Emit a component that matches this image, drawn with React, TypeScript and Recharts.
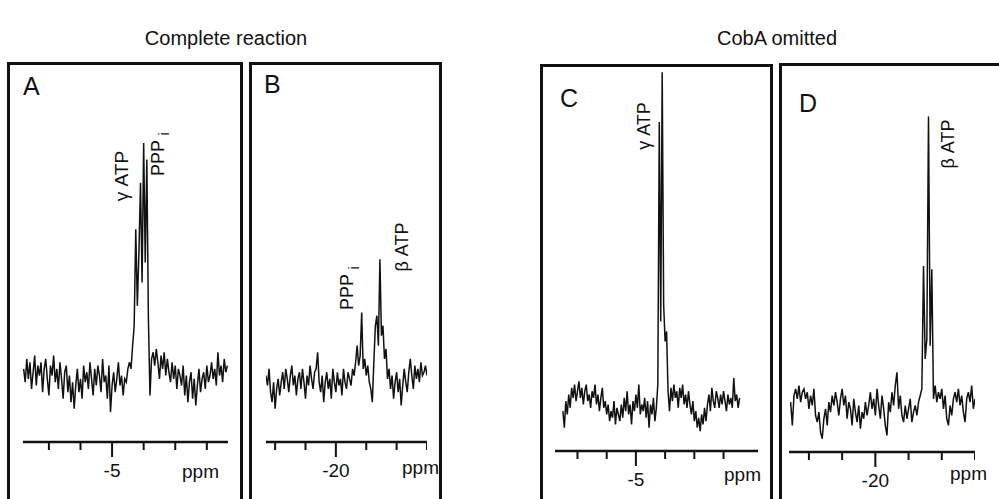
import React from "react";
import { LineChart, Line, XAxis, YAxis } from "recharts";

// 31P NMR spectra, sampled every 0.05 ppm from the start shift
const step = 0.05;

const aStart = -7.8;
const aIntensity = [
  1, -3, 4, -2, 3, -5, 0, 5, -4, 2,
  -1, 3, -6, 1, 4, -2, -7, 2, -1, 5,
  -3, 1, -5, 3, -2, -8, 0, 2, -6, -1,
  -9, -3, -11, -4, 1, -6, -2, -8, 2, -3,
  0, -5, 3, -2, -7, 1, -4, 2, -1, -6,
  4, -3, -1, -8, 2, -12, -4, 0, -6, -2,
  3, -4, -1, -7, -2, -3, 1, 3, 1, 8,
  14, 43, 20, 36, 57, 27, 69, 33, 64, 16,
  -7, 4, 6, 2, 7, 3, -2, 5, 1, 6,
  -1, 4, 0, -3, 3, -2, 2, -5, 1, -1,
  -4, 2, -7, -1, -9, -3, 0, -8, -2, -10,
  -4, 1, -6, -2, 0, -5, 2, -3, -1, 3,
  -2, 1, -4, 6, -1, 2, -3, 4, 0, 2,
];

const bStart = -22.3;
const bIntensity = [
  -1, -4, 1, -6, -9, -3, -11, -5, -2, -7,
  -3, 0, -5, 1, -2, -6, -1, 2, -4, -1,
  -7, -2, 0, -5, 1, -3, -8, -1, -4, 2,
  -2, -5, 0, 1, 6, -3, -6, -1, -9, -3,
  0, -5, -2, -8, 1, -3, -6, 0, -4, -2,
  -7, 1, -3, -5, 0, -2, -4, 1, -1, 3,
  8, 2, 5, 18, 1, 4, -1, 2, -3, -5,
  -9, 3, 14, 17, 8, 34, 11, 14, 4, 7,
  -2, 1, -5, -1, -8, -3, 0, -6, -2, -10,
  -4, 1, -3, -6, 0, 4, -1, -5, 2, -2,
  1, -3, 3, -1, 0, 2, -1,
];

const cStart = -7.5;
const cIntensity = [
  -2, -7, 1, -3, 3, -1, 5, 2, 6, 1,
  4, 7, 2, 5, 0, 4, 6, 1, 3, -1,
  4, 2, 6, 0, 3, -2, 2, 5, -1, 1,
  -3, 0, -5, -2, -4, 1, -6, -1, -3, -5,
  0, -4, 2, -2, 4, -3, 0, -6, 1, -2,
  3, -1, 6, -3, 0, -2, 2, -4, 1, -7,
  0, -3, 2, -5, -1, 6, 85, 25, 100, 30,
  19, 22, 4, -2, 5, 1, 6, 2, 4, -1,
  5, 2, 6, 0, 3, -1, 4, 0, -3, 1,
  -5, -2, -7, -4, -8, -3, -6, -1, -5, 0,
  3, -2, 5, 1, -1, 4, 2, -1, 3, 0,
  4, 1, -2, 3, 0, 2, -1, 8, 1, 3,
  -1, 2,
];

const dStart = -22.55;
const dIntensity = [
  1, -6, 3, 5, 2, 6, 1, 4, 5, 2,
  4, -1, 3, 0, 5, -3, -5, -2, -8, -10,
  -4, -1, -6, 1, -2, 3, 0, 4, 1, -3,
  2, 5, 0, 3, -4, 1, -1, -6, 2, -2,
  -5, 0, -7, -2, -4, 1, -3, 0, 4, -1,
  2, -3, 5, 0, -4, 3, -1, -6, -9, 1,
  -2, 4, 0, 6, 10, -1, 3, -3, -5, 0,
  -4, -1, 2, -5, -2, 0, -3, 1, 3, 5,
  42, 14, 20, 87, 18, 41, 2, 6, 1, 4,
  2, 5, -1, 3, -4, -6, 0, -3, 2, 4,
  1, 5, 0, 3, -2, -5, 2, 4, 1, 6,
  -1, 2,
];

const gammaTicks = [-7, -6, -5, -4, -3, -2];
const betaTicks = [-22, -21, -20, -19, -18, -17];

const toRows = (start: number, values: number[]) =>
  values.map((v, i) => ({ ppm: +(start + i * step).toFixed(2), v }));

const ink = "#111";
const font = "'Liberation Sans', Arial, Helvetica, sans-serif";

type PanelProps = {
  rows: { ppm: number; v: number }[];
  left: number;
  right: number;
  top: number;
  axisY: number;
  xDomain: [number, number];
  yDomain: [number, number];
  ticks: number[];
  labelled: number;
};

const AxisTick = (props: any) => {
  const { x, y, payload, labelled } = props;
  const isLab = payload.value === labelled;
  return (
    <g>
      <line x1={x} x2={x} y1={y} y2={y + (isLab ? 15 : 8)} stroke={ink} strokeWidth={2} />
      {isLab && (
        <text x={x} y={y + 35} textAnchor="middle" fontSize={19} fill={ink} fontFamily={font}>
          {payload.value}
        </text>
      )}
    </g>
  );
};

const Spectrum = ({ rows, left, right, top, axisY, xDomain, yDomain, ticks, labelled }: PanelProps) => {
  const width = right - left;
  const height = axisY - top + 40;
  return (
    <div style={{ position: "absolute", left, top, width, height }}>
      <LineChart width={width} height={height} data={rows} margin={{ top: 0, right: 0, bottom: 0, left: 0 }}>
        <XAxis
          type="number"
          dataKey="ppm"
          domain={xDomain}
          allowDataOverflow
          ticks={ticks}
          interval={0}
          height={40}
          tickSize={0}
          tickMargin={0}
          tickLine={false}
          axisLine={{ stroke: ink, strokeWidth: 2.5 }}
          tick={(p: any) => <AxisTick {...p} labelled={labelled} />}
        />
        <YAxis hide type="number" domain={yDomain} allowDataOverflow />
        <Line
          type="linear"
          dataKey="v"
          stroke={ink}
          strokeWidth={1.5}
          dot={false}
          isAnimationActive={false}
        />
      </LineChart>
    </div>
  );
};

const VLabel = ({ x, y, text, size = 18 }: { x: number; y: number; text: string; size?: number }) => (
  <text
    x={x}
    y={y}
    transform={`rotate(-90 ${x} ${y})`}
    textAnchor="middle"
    dominantBaseline="central"
    fontSize={size}
    fill={ink}
    fontFamily={font}
  >
    {text}
  </text>
);

export default function App() {
  return (
    <div
      style={{
        position: "fixed",
        left: 0,
        top: 0,
        width: 999,
        height: 499,
        overflow: "hidden",
        background: "#fff",
        fontFamily: font,
      }}
    >
      <Spectrum rows={toRows(aStart, aIntensity)} left={23} right={228} top={123} axisY={442}
        xDomain={[-7.82, -1.33]} yDomain={[-21, 75]} ticks={gammaTicks} labelled={-5} />
      <Spectrum rows={toRows(bStart, bIntensity)} left={266} right={427} top={123} axisY={442}
        xDomain={[-22.3, -17.0]} yDomain={[-21, 75]} ticks={betaTicks} labelled={-20} />
      <Spectrum rows={toRows(cStart, cIntensity)} left={555} right={758} top={59} axisY={451}
        xDomain={[-7.77, -0.82]} yDomain={[-14, 104]} ticks={gammaTicks} labelled={-5} />
      <Spectrum rows={toRows(dStart, dIntensity)} left={789} right={975} top={60} axisY={452}
        xDomain={[-22.6, -17.0]} yDomain={[-14, 104]} ticks={betaTicks} labelled={-20} />

      <svg width={999} height={499} style={{ position: "absolute", left: 0, top: 0, pointerEvents: "none" }}>
        <g fill="none" stroke={ink} strokeWidth={3}>
          <rect x={8.5} y={63.5} width={233} height={500} />
          <rect x={250.5} y={63.5} width={190} height={500} />
          <rect x={541.5} y={65.5} width={230} height={500} />
          <rect x={780.5} y={64.5} width={300} height={500} />
        </g>
        <g fill={ink} fontFamily={font}>
          <text x={226} y={45} textAnchor="middle" fontSize={20}>Complete reaction</text>
          <text x={777} y={45} textAnchor="middle" fontSize={20}>CobA omitted</text>
          <text x={23} y={95} fontSize={25}>A</text>
          <text x={264} y={93} fontSize={25}>B</text>
          <text x={560} y={107} fontSize={25}>C</text>
          <text x={799} y={112} fontSize={25}>D</text>
          <text x={219} y={478} fontSize={19} textAnchor="end">ppm</text>
          <text x={439} y={474} fontSize={19} textAnchor="end">ppm</text>
          <text x={761} y={481} fontSize={19} textAnchor="end">ppm</text>
          <text x={987} y={480} fontSize={19} textAnchor="end">ppm</text>
        </g>
        <VLabel x={121} y={176} text="γ ATP" size={19} />
        <VLabel x={158} y={158} text="PPP" />
        <VLabel x={164} y={134} text="i" size={14} />
        <VLabel x={347} y={292} text="PPP" />
        <VLabel x={354} y={268} text="i" size={14} />
        <VLabel x={402} y={247} text="β ATP" />
        <VLabel x={644} y={126} text="γ ATP" />
        <VLabel x={948} y={144} text="β ATP" />
      </svg>
    </div>
  );
}
